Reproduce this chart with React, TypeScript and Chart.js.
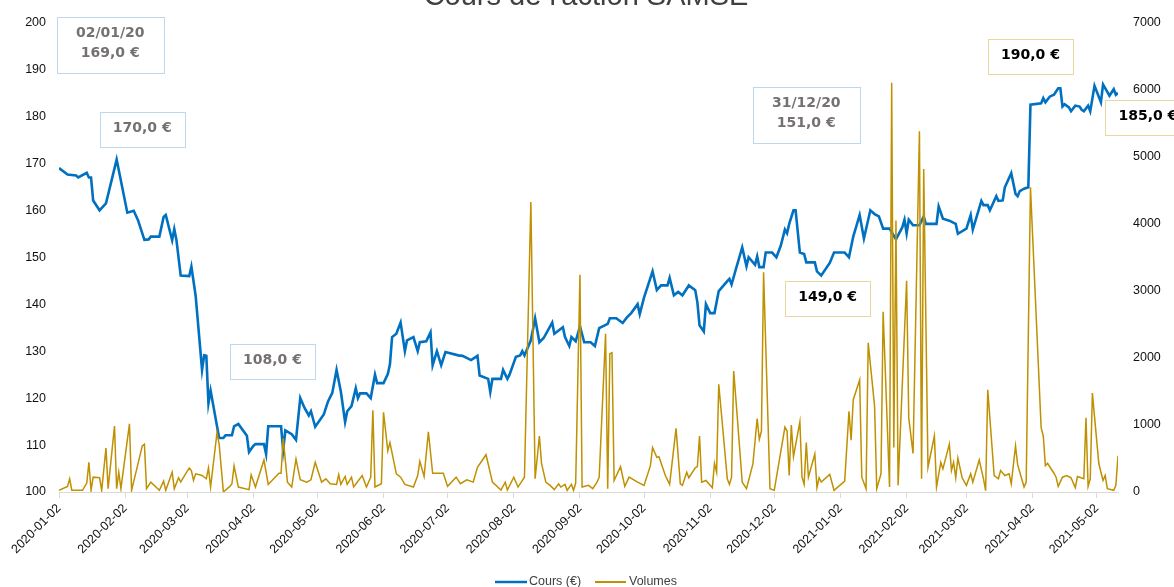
import React, { useEffect, useRef } from 'react';
import { Chart, registerables } from 'chart.js';

Chart.register(...registerables);

const chartTitle = "Cours de l'action SAMSE";
const seriesNames = ['Cours (€)', 'Volumes'];

const priceDates: string[] = [
  '2020-01-02','2020-01-06','2020-01-10','2020-01-11','2020-01-15','2020-01-16','2020-01-17','2020-01-18','2020-01-21','2020-01-24','2020-01-29',
  '2020-02-03','2020-02-06','2020-02-08','2020-02-11','2020-02-13','2020-02-14','2020-02-18','2020-02-20','2020-02-21','2020-02-24','2020-02-25','2020-02-26','2020-02-28',
  '2020-03-03','2020-03-04','2020-03-06','2020-03-09','2020-03-10','2020-03-11','2020-03-12','2020-03-13','2020-03-17','2020-03-19','2020-03-20','2020-03-23','2020-03-24','2020-03-26','2020-03-30','2020-03-31',
  '2020-04-02','2020-04-03','2020-04-07','2020-04-08','2020-04-09','2020-04-15','2020-04-16','2020-04-17','2020-04-20','2020-04-22','2020-04-24','2020-04-26','2020-04-28','2020-04-29',
  '2020-05-01','2020-05-05','2020-05-07','2020-05-09','2020-05-11','2020-05-13','2020-05-15','2020-05-16','2020-05-18','2020-05-20','2020-05-21','2020-05-22','2020-05-25','2020-05-27','2020-05-29','2020-05-30',
  '2020-06-02','2020-06-04','2020-06-05','2020-06-06','2020-06-08','2020-06-10','2020-06-12','2020-06-13','2020-06-16','2020-06-18','2020-06-19','2020-06-22','2020-06-24','2020-06-25','2020-06-27','2020-06-29',
  '2020-07-01','2020-07-07','2020-07-09','2020-07-13','2020-07-16','2020-07-17','2020-07-21','2020-07-22','2020-07-23','2020-07-27','2020-07-28','2020-07-30','2020-07-31',
  '2020-08-03','2020-08-05','2020-08-06','2020-08-07','2020-08-10','2020-08-12','2020-08-14','2020-08-16','2020-08-20','2020-08-21','2020-08-25','2020-08-26','2020-08-28','2020-08-29','2020-08-31',
  '2020-09-02','2020-09-04','2020-09-07','2020-09-09','2020-09-11','2020-09-15','2020-09-16','2020-09-19','2020-09-22','2020-09-24','2020-09-26','2020-09-29','2020-09-30',
  '2020-10-02','2020-10-06','2020-10-08','2020-10-10','2020-10-13','2020-10-14','2020-10-16','2020-10-18','2020-10-20','2020-10-23','2020-10-26','2020-10-27','2020-10-28','2020-10-30','2020-10-31',
  '2020-11-02','2020-11-04','2020-11-06','2020-11-10','2020-11-11','2020-11-12','2020-11-14','2020-11-17','2020-11-19','2020-11-20','2020-11-23','2020-11-24','2020-11-25','2020-11-27','2020-11-28',
  '2020-12-01','2020-12-03','2020-12-05','2020-12-07','2020-12-08','2020-12-09','2020-12-11','2020-12-12','2020-12-14','2020-12-16','2020-12-17','2020-12-21','2020-12-22','2020-12-24','2020-12-28','2020-12-30',
  '2021-01-04','2021-01-06','2021-01-08','2021-01-11','2021-01-13','2021-01-16','2021-01-18','2021-01-20','2021-01-22','2021-01-25','2021-01-28','2021-01-31',
  '2021-02-01','2021-02-02','2021-02-03','2021-02-05','2021-02-08','2021-02-10','2021-02-11','2021-02-16','2021-02-17','2021-02-19','2021-02-22','2021-02-25','2021-02-26',
  '2021-03-02','2021-03-04','2021-03-05','2021-03-09','2021-03-10','2021-03-12','2021-03-13','2021-03-16','2021-03-17','2021-03-19','2021-03-20','2021-03-23','2021-03-25','2021-03-26','2021-03-27','2021-03-29','2021-03-31',
  '2021-04-01','2021-04-06','2021-04-07','2021-04-08','2021-04-10','2021-04-12','2021-04-14','2021-04-15','2021-04-16','2021-04-17','2021-04-19','2021-04-20','2021-04-22','2021-04-24','2021-04-25','2021-04-26','2021-04-28','2021-04-29',
  '2021-05-01','2021-05-04','2021-05-05','2021-05-08','2021-05-10','2021-05-11','2021-05-12',
];

const priceValues: number[] = [
  169.0,167.6,167.4,167.0,168.0,167.0,167.0,162.1,160.0,161.5,170.8,
  159.5,159.9,157.9,153.7,153.8,154.4,154.4,158.6,159.0,153.6,156.0,153.7,146.1,
  146.0,148.0,141.8,126.0,129.1,129.0,118.9,121.6,111.5,111.5,112.1,112.1,114.0,114.5,112.0,108.5,
  109.8,110.2,110.2,108.1,114.0,114.0,109.0,113.1,112.3,111.1,120.0,117.9,116.3,117.2,
  113.9,116.5,119.3,121.1,126.0,121.4,114.9,117.2,118.3,122.1,120.0,121.0,121.0,120.0,125.0,123.2,
  123.2,125.1,127.2,133.0,133.7,136.1,130.0,132.3,133.0,130.0,131.9,132.1,134.0,127.0,130.0,127.0,
  129.8,129.1,129.0,128.1,129.0,124.8,124.1,121.3,124.1,124.1,126.0,124.1,125.0,
  128.8,129.1,130.0,129.1,132.3,137.0,131.9,132.8,136.1,133.7,135.1,133.0,131.1,133.0,132.1,
  135.3,131.9,131.9,131.1,134.9,135.8,137.0,137.0,136.0,137.2,138.1,140.0,137.9,
  141.4,147.0,143.0,144.0,144.0,145.6,141.9,142.6,141.9,144.0,143.0,140.4,135.5,134.2,140.0,
  138.1,138.1,142.8,144.9,145.4,144.2,147.4,152.1,148.1,150.0,148.4,150.2,147.9,147.9,151.0,
  151.0,150.0,152.4,155.9,155.1,157.1,160.0,160.0,151.0,150.7,148.9,148.9,147.0,146.1,148.8,151.0,
  151.0,150.0,154.4,159.0,154.0,160.0,159.2,158.7,156.1,156.1,153.8,156.4,
  158.0,155.1,158.0,156.8,156.8,158.7,157.1,157.1,160.8,158.2,157.8,157.1,155.0,
  156.1,159.0,155.9,162.0,161.1,161.1,160.0,163.0,162.0,162.1,164.9,167.9,163.5,163.0,164.1,164.6,164.9,
  182.5,182.8,183.9,183.0,184.2,184.6,186.0,186.0,182.1,182.6,181.9,181.1,182.3,182.1,181.4,181.1,182.3,181.1,
  186.5,183.0,186.8,184.4,185.8,184.6,185.0,
];

const volumeDates: string[] = [
  '2020-01-02','2020-01-06','2020-01-07','2020-01-08','2020-01-13','2020-01-15','2020-01-16','2020-01-17','2020-01-18','2020-01-20','2020-01-21','2020-01-22','2020-01-24','2020-01-25','2020-01-28','2020-01-29','2020-01-30','2020-01-31',
  '2020-02-04','2020-02-05','2020-02-10','2020-02-11','2020-02-12','2020-02-14','2020-02-18','2020-02-20','2020-02-21','2020-02-24','2020-02-25','2020-02-27','2020-02-28',
  '2020-03-03','2020-03-04','2020-03-05','2020-03-06','2020-03-09','2020-03-11','2020-03-12','2020-03-13','2020-03-16','2020-03-17','2020-03-19','2020-03-22','2020-03-23','2020-03-24','2020-03-26','2020-03-31',
  '2020-04-01','2020-04-03','2020-04-07','2020-04-09','2020-04-14','2020-04-15','2020-04-16','2020-04-18','2020-04-20','2020-04-22','2020-04-24','2020-04-27','2020-04-29',
  '2020-05-01','2020-05-04','2020-05-06','2020-05-08','2020-05-11','2020-05-12','2020-05-13','2020-05-15','2020-05-16','2020-05-18','2020-05-19','2020-05-23','2020-05-25','2020-05-27','2020-05-28','2020-05-29',
  '2020-06-01','2020-06-02','2020-06-04','2020-06-05','2020-06-08','2020-06-10','2020-06-12','2020-06-16','2020-06-18','2020-06-19','2020-06-21','2020-06-23','2020-06-25','2020-06-30',
  '2020-07-02','2020-07-06','2020-07-08','2020-07-11','2020-07-14','2020-07-16','2020-07-20','2020-07-23','2020-07-27','2020-07-29','2020-07-30',
  '2020-08-02','2020-08-04','2020-08-07','2020-08-10','2020-08-12','2020-08-14','2020-08-15','2020-08-17','2020-08-19','2020-08-21','2020-08-23','2020-08-24','2020-08-26','2020-08-27','2020-08-29','2020-08-30','2020-08-31',
  '2020-09-02','2020-09-03','2020-09-06','2020-09-08','2020-09-10','2020-09-11','2020-09-14','2020-09-15','2020-09-16','2020-09-17','2020-09-18','2020-09-21','2020-09-23','2020-09-25','2020-09-29',
  '2020-10-02','2020-10-05','2020-10-06','2020-10-08','2020-10-09','2020-10-12','2020-10-14','2020-10-17','2020-10-19','2020-10-20','2020-10-22','2020-10-23','2020-10-26','2020-10-27','2020-10-28','2020-10-29','2020-10-31',
  '2020-11-03','2020-11-04','2020-11-05','2020-11-06','2020-11-08','2020-11-10','2020-11-11','2020-11-12','2020-11-13','2020-11-14','2020-11-17','2020-11-19','2020-11-22','2020-11-24','2020-11-25','2020-11-26','2020-11-27','2020-11-30',
  '2020-12-02','2020-12-07','2020-12-08','2020-12-09','2020-12-10','2020-12-11','2020-12-14','2020-12-15','2020-12-16','2020-12-17','2020-12-18','2020-12-21','2020-12-22','2020-12-23','2020-12-24','2020-12-28','2020-12-30',
  '2021-01-04','2021-01-06','2021-01-07','2021-01-08','2021-01-11','2021-01-12','2021-01-14','2021-01-15','2021-01-18','2021-01-19','2021-01-21','2021-01-22','2021-01-25','2021-01-26','2021-01-27','2021-01-28','2021-01-29',
  '2021-02-02','2021-02-03','2021-02-05','2021-02-08','2021-02-09','2021-02-10','2021-02-12','2021-02-15','2021-02-16','2021-02-18','2021-02-19','2021-02-22','2021-02-23','2021-02-24','2021-02-25','2021-02-26','2021-02-28',
  '2021-03-02','2021-03-04','2021-03-05','2021-03-08','2021-03-10','2021-03-11','2021-03-12','2021-03-15','2021-03-17','2021-03-18','2021-03-20','2021-03-22','2021-03-23','2021-03-25','2021-03-26','2021-03-29','2021-03-30',
  '2021-04-01','2021-04-06','2021-04-07','2021-04-08','2021-04-09','2021-04-12','2021-04-13','2021-04-14','2021-04-16','2021-04-18','2021-04-20','2021-04-22','2021-04-23','2021-04-26','2021-04-27','2021-04-28','2021-04-29','2021-04-30',
  '2021-05-03','2021-05-04','2021-05-05','2021-05-06','2021-05-07','2021-05-10','2021-05-11','2021-05-12',
];

const volumeValues: number[] = [
  25,84,197,25,25,133,442,25,221,215,212,25,654,50,983,50,295,50,
  1017,25,688,713,50,147,25,162,25,295,50,212,150,
  359,320,172,271,246,197,359,74,884,713,0,84,123,390,74,35,
  256,74,477,113,280,280,801,147,74,492,182,147,182,
  442,147,197,123,113,261,113,231,113,221,74,246,74,221,1219,74,
  123,1189,614,737,271,221,113,74,246,457,231,899,280,280,
  84,221,123,182,147,369,556,147,30,147,30,
  221,74,221,4324,197,835,428,147,99,35,123,74,113,25,113,25,133,
  3240,74,99,50,147,221,2358,50,2063,2078,172,379,84,221,147,
  99,393,663,516,526,246,113,949,123,99,295,212,359,379,835,147,172,
  65,428,295,1606,909,197,113,221,1803,1400,147,50,418,1096,786,909,3277,50,
  25,968,909,246,998,526,1046,221,113,737,221,566,65,212,147,261,25,
  162,1204,772,1376,1671,221,50,2225,1278,50,271,2688,74,6100,663,4049,99,
  3150,1105,575,5380,197,4815,369,835,74,442,344,713,320,442,212,506,212,
  99,271,147,477,197,20,1524,246,197,320,246,271,123,688,408,74,147,
  4545,958,835,393,428,280,221,84,221,246,212,65,231,197,1105,84,197,1474,
  428,295,172,246,50,25,99,541,
];

const xTickLabels: string[] = [
  '2020-01-02','2020-02-02','2020-03-02','2020-04-02','2020-05-02','2020-06-02','2020-07-02','2020-08-02','2020-09-02',
  '2020-10-02','2020-11-02','2020-12-02','2021-01-02','2021-02-02','2021-03-02','2021-04-02','2021-05-02',
];

// Callout labels (Excel-style data labels), centred at a date / price position
const calloutDates = ['2020-01-26', '2020-02-10', '2020-04-11', '2020-12-17', '2020-12-27', '2021-04-01', '2021-05-26'];
const calloutValues = [195.3, 177.3, 127.8, 180.4, 141.3, 192.7, 179.7];
const calloutTexts = [['02/01/20', '169,0 €'], ['170,0 €'], ['108,0 €'], ['31/12/20', '151,0 €'], ['149,0 €'], ['190,0 €'], ['185,0 €']];
const calloutTones = ['grey', 'grey', 'grey', 'grey', 'gold', 'gold', 'gold'];

const START = Date.UTC(2020, 0, 2);
function dayOf(s: string): number {
  const [y, m, d] = s.split('-').map(Number);
  return Math.round((Date.UTC(y, m - 1, d) - START) / 86400000);
}

const FONT = '"Liberation Sans", Arial, sans-serif';
const BLUE = '#0070C0';
const GOLD = '#BF9000';

const titlePlugin = {
  id: 'cutTitle',
  afterDraw(chart: any) {
    const { ctx } = chart;
    ctx.save();
    ctx.font = `29px ${FONT}`;
    ctx.fillStyle = '#404040';
    ctx.textAlign = 'center';
    ctx.textBaseline = 'alphabetic';
    ctx.fillText(chartTitle, 586, 5);
    ctx.restore();
  },
};

const legendPlugin = {
  id: 'bottomLegend',
  afterDraw(chart: any) {
    const { ctx } = chart;
    const y = 582;
    ctx.save();
    ctx.font = `12.5px ${FONT}`;
    ctx.textAlign = 'left';
    ctx.textBaseline = 'middle';
    ctx.fillStyle = '#404040';
    ctx.lineWidth = 2.5;
    ctx.strokeStyle = BLUE;
    ctx.beginPath(); ctx.moveTo(495, y); ctx.lineTo(527, y); ctx.stroke();
    ctx.fillText(seriesNames[0], 529, y);
    ctx.lineWidth = 2;
    ctx.strokeStyle = GOLD;
    ctx.beginPath(); ctx.moveTo(595, y); ctx.lineTo(626, y); ctx.stroke();
    ctx.fillText(seriesNames[1], 629, y);
    ctx.restore();
  },
};

const calloutPlugin = {
  id: 'callouts',
  afterDatasetsDraw(chart: any) {
    const { ctx, scales } = chart;
    ctx.save();
    calloutDates.forEach((d, i) => {
      const lines = calloutTexts[i];
      const cx = scales.x.getPixelForValue(dayOf(d));
      const cy = scales.y.getPixelForValue(calloutValues[i]);
      const w = lines.length > 1 ? 107 : 85;
      const h = lines.length > 1 ? 56 : 35;
      const left = Math.round(cx - w / 2) + 0.5;
      const top = Math.round(cy - h / 2) + 0.5;
      ctx.fillStyle = '#ffffff';
      ctx.fillRect(left, top, w, h);
      ctx.lineWidth = 1;
      ctx.strokeStyle = calloutTones[i] === 'grey' ? '#BDD7EE' : '#E8D79E';
      ctx.strokeRect(left, top, w, h);
      ctx.fillStyle = calloutTones[i] === 'grey' ? '#767171' : '#000000';
      ctx.font = 'bold 14px "DejaVu Sans", sans-serif';
      ctx.textAlign = 'center';
      ctx.textBaseline = 'middle';
      lines.forEach((t, k) => {
        ctx.fillText(t, cx, cy - 1 + (k - (lines.length - 1) / 2) * 20);
      });
    });
    ctx.restore();
  },
};

export default function App() {
  const ref = useRef<HTMLCanvasElement | null>(null);

  useEffect(() => {
    if (!ref.current) return;
    const lastDay = dayOf(priceDates[priceDates.length - 1]);
    const tickFont = { family: FONT, size: 12.5 };
    const chart = new Chart(ref.current, {
      type: 'line',
      data: {
        datasets: [
          {
            label: seriesNames[0],
            data: priceDates.map((d, i) => ({ x: dayOf(d), y: priceValues[i] })),
            borderColor: BLUE,
            backgroundColor: BLUE,
            borderWidth: 2.6,
            pointRadius: 0,
            tension: 0,
            yAxisID: 'y',
            order: 1,
          },
          {
            label: seriesNames[1],
            data: volumeDates.map((d, i) => ({ x: dayOf(d), y: volumeValues[i] })),
            borderColor: GOLD,
            backgroundColor: GOLD,
            borderWidth: 1.5,
            pointRadius: 0,
            tension: 0,
            yAxisID: 'y1',
            order: 0,
          },
        ],
      },
      options: {
        animation: false,
        responsive: false,
        devicePixelRatio: 1,
        layout: { padding: { top: 17, left: 0, right: 0, bottom: 0 } },
        plugins: {
          legend: { display: false },
          title: { display: false },
          tooltip: { enabled: false },
        },
        scales: {
          x: {
            type: 'linear',
            min: 0,
            max: lastDay,
            afterBuildTicks: (s: any) => {
              s.ticks = xTickLabels.map((l) => ({ value: dayOf(l) }));
            },
            afterFit: (s: any) => { s.height = 95; },
            grid: { drawOnChartArea: false, drawTicks: true, tickLength: 6, color: '#D9D9D9' },
            border: { display: true, color: '#D9D9D9', width: 1 },
            ticks: {
              autoSkip: false,
              minRotation: 45,
              maxRotation: 45,
              padding: 3,
              color: '#111111',
              font: tickFont,
              callback: (v: any) => {
                const f = xTickLabels.find((l) => dayOf(l) === v);
                return f ?? '';
              },
            },
          },
          y: {
            position: 'left',
            min: 100,
            max: 200,
            afterFit: (s: any) => { s.width = 59; },
            grid: { display: false, drawTicks: false },
            border: { display: false },
            ticks: { stepSize: 10, padding: 13, color: '#111111', font: tickFont, callback: (v: any) => String(v) },
          },
          y1: {
            position: 'right',
            min: 0,
            max: 7000,
            afterFit: (s: any) => { s.width = 56; },
            grid: { display: false, drawTicks: false },
            border: { display: false },
            ticks: { stepSize: 1000, padding: 15, color: '#111111', font: tickFont, callback: (v: any) => String(v) },
          },
        },
      },
      plugins: [calloutPlugin, titlePlugin, legendPlugin],
    } as any);
    return () => chart.destroy();
  }, []);

  return (
    <div style={{ position: 'absolute', left: 0, top: 0, width: 1174, height: 587, overflow: 'hidden', background: '#fff' }}>
      <canvas ref={ref} width={1174} height={587} style={{ display: 'block', width: 1174, height: 587 }} />
    </div>
  );
}
